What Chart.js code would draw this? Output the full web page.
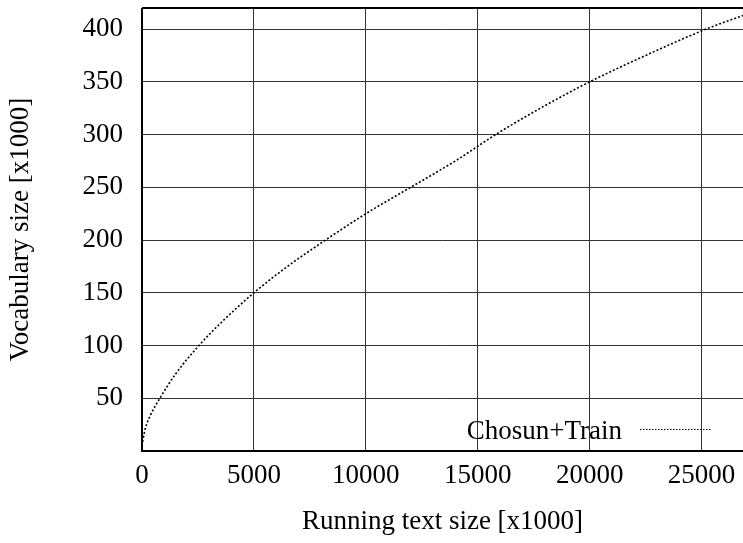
<!DOCTYPE html>
<html>
<head>
<meta charset="utf-8">
<script src="https://cdn.jsdelivr.net/npm/chart.js@4/dist/chart.umd.min.js"></script>
<style>
  html, body { margin: 0; padding: 0; background: #fff; }
  canvas { display: block; }
</style>
</head>
<body>
<canvas id="vocabChart" width="743" height="543"></canvas>
<script>
// Running text size [x1000] vs vocabulary size [x1000]
const textSize = [0, 100, 200, 400, 800, 1500, 2500, 3500, 5000, 6500, 8200, 10000, 12000, 14000, 15800, 17800, 20000, 22500, 25200, 27000];
const vocabSize = [5, 17, 25, 35, 50, 73, 99, 121, 150, 175, 200, 225, 250, 275, 300, 325, 350, 375, 400, 414];
const xTicks = [0, 5000, 10000, 15000, 20000, 25000];
const yTicks = [50, 100, 150, 200, 250, 300, 350, 400];
const seriesLabel = 'Chosun+Train';

const fontFamily = '"Liberation Serif", "DejaVu Serif", serif';
const fontSize = 27;

// frame + legend drawn in gnuplot style
const framePlugin = {
  id: 'frame',
  afterDraw(chart) {
    const { ctx, chartArea: a } = chart;
    ctx.save();
    ctx.strokeStyle = '#000';
    ctx.lineWidth = 2;
    ctx.beginPath();
    ctx.moveTo(a.left, a.top);
    ctx.lineTo(a.right + 2, a.top);
    ctx.moveTo(a.left, a.top);
    ctx.lineTo(a.left, a.bottom);
    ctx.lineTo(a.right + 2, a.bottom);
    ctx.stroke();

    // legend in the lower right corner
    ctx.fillStyle = '#000';
    ctx.font = fontSize + 'px ' + fontFamily;
    ctx.textAlign = 'right';
    ctx.textBaseline = 'alphabetic';
    ctx.fillText(seriesLabel, a.right - 121, a.bottom - 12);
    ctx.setLineDash([1.5, 1.5]);
    ctx.lineWidth = 1;
    ctx.beginPath();
    ctx.moveTo(a.right - 103, a.bottom - 21.5);
    ctx.lineTo(a.right - 31, a.bottom - 21.5);
    ctx.stroke();
    ctx.restore();
  }
};

const ctx = document.getElementById('vocabChart').getContext('2d');
new Chart(ctx, {
  type: 'line',
  data: {
    datasets: [{
      label: seriesLabel,
      data: textSize.map((x, i) => ({ x: x, y: vocabSize[i] })),
      borderColor: '#000',
      borderWidth: 1.6,
      borderDash: [2, 2],
      pointRadius: 0,
      cubicInterpolationMode: 'monotone',
      fill: false
    }]
  },
  options: {
    responsive: false,
    animation: false,
    layout: { padding: { top: 8, right: 0, left: 0, bottom: 0 } },
    plugins: {
      legend: { display: false },
      tooltip: { enabled: false }
    },
    scales: {
      x: {
        type: 'linear',
        min: 0,
        max: 26850,
        afterBuildTicks: axis => { axis.ticks = xTicks.map(v => ({ value: v })); },
        afterFit: axis => {
          axis.height = 92;
          axis.paddingLeft = 0;
          axis.paddingRight = 0;
        },
        grid: { color: '#333', lineWidth: 1, drawTicks: false },
        border: { display: false },
        ticks: {
          color: '#000',
          padding: 9,
          maxRotation: 0,
          font: { family: fontFamily, size: fontSize },
          callback: v => String(v)
        },
        title: {
          display: true,
          text: 'Running text size [x1000]',
          color: '#000',
          font: { family: fontFamily, size: fontSize },
          padding: { top: 0, bottom: 5 }
        }
      },
      y: {
        min: 0,
        max: 420,
        afterBuildTicks: axis => { axis.ticks = yTicks.map(v => ({ value: v })); },
        afterFit: axis => {
          axis.width = 142;
          axis.paddingTop = 0;
          axis.paddingBottom = 0;
        },
        grid: { color: '#333', lineWidth: 1, drawTicks: false },
        border: { display: false },
        ticks: {
          color: '#000',
          padding: 19,
          font: { family: fontFamily, size: fontSize },
          callback: v => String(v)
        },
        title: {
          display: true,
          text: 'Vocabulary size [x1000]',
          color: '#000',
          font: { family: fontFamily, size: fontSize },
          padding: { top: 5, bottom: 0 }
        }
      }
    }
  },
  plugins: [framePlugin]
});
</script>
</body>
</html>
